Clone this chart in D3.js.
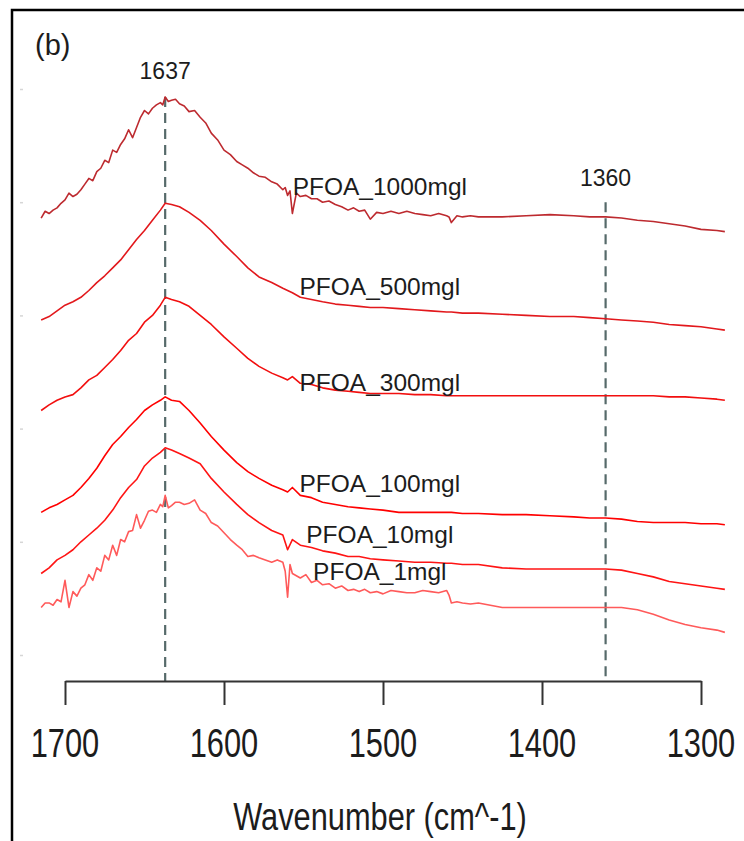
<!DOCTYPE html>
<html>
<head>
<meta charset="utf-8">
<script src="https://cdn.jsdelivr.net/npm/d3@7"></script>
<style>
  body { margin: 0; background: #fff; }
  text { font-family: "Liberation Sans", Arial, sans-serif; fill: #1c1c1c; }
</style>
</head>
<body>
<div id="chart"></div>
<script>
// wavenumber grid (cm^-1) for the smoother spectra
var wavenumbers = [1715, 1710, 1705, 1700, 1695, 1690, 1685, 1680, 1675, 1670,
  1665, 1660, 1655, 1650, 1645, 1640, 1637, 1633, 1628, 1622,
  1615, 1608, 1600, 1592, 1585, 1578, 1570, 1563, 1560, 1557,
  1552, 1545, 1538, 1530, 1522, 1515, 1508, 1500, 1490, 1480,
  1470, 1460, 1457, 1450, 1440, 1425, 1410, 1395, 1380, 1370,
  1360, 1350, 1340, 1330, 1320, 1310, 1300, 1290, 1285];

// denser grid for the two noisy spectra
var wavenumbersFine = [1715, 1712.5, 1710, 1707.5, 1705, 1702.5, 1700, 1697.5, 1695, 1692.5,
  1690, 1687.5, 1685, 1682.5, 1680, 1677.5, 1675, 1672.5, 1670, 1667.5,
  1665, 1662.5, 1660, 1657.5, 1655, 1652.5, 1650, 1647.5, 1645, 1642.5,
  1640, 1638.5, 1637, 1635, 1633, 1630.5, 1628, 1625, 1622, 1618.5,
  1615, 1611.5, 1608, 1604, 1600, 1596, 1592, 1588.5, 1585, 1581.5,
  1578, 1574, 1570, 1566.5, 1563, 1561.5, 1560, 1558.5, 1557, 1554.5,
  1552, 1548.5, 1545, 1541.5, 1538, 1534, 1530, 1526, 1522, 1518.5,
  1515, 1511.5, 1508, 1504, 1500, 1495, 1490, 1485, 1480, 1475,
  1470, 1465, 1460, 1458.5, 1457, 1453.5, 1450, 1445, 1440,
  1425, 1410, 1395, 1380, 1370, 1360, 1350, 1340, 1330, 1320,
  1310, 1300, 1290, 1285];

// stacked absorbance (offset per sample)
var pfoa1000 = [3.86, 3.92, 3.90, 3.93, 3.95, 3.99, 4.02, 4.08, 4.05, 4.07,
  4.11, 4.16, 4.21, 4.19, 4.27, 4.30, 4.37, 4.35, 4.46, 4.44,
  4.51, 4.56, 4.64, 4.57, 4.66, 4.75, 4.81, 4.78, 4.83, 4.86,
  4.88, 4.86, 4.93, 4.89, 4.90, 4.91, 4.87, 4.85, 4.80, 4.81,
  4.75, 4.70, 4.61, 4.55, 4.46, 4.42, 4.36, 4.33, 4.30, 4.26,
  4.23, 4.22, 4.18, 4.16, 4.11, 4.13, 4.06, 4.10, 3.90, 4.08,
  4.05, 4.06, 4.03, 4.03, 4.00, 4.01, 3.98, 3.96, 3.93, 3.95,
  3.92, 3.93, 3.85, 3.91, 3.90, 3.92, 3.90, 3.92, 3.90, 3.89,
  3.88, 3.90, 3.88, 3.87, 3.82, 3.88, 3.87, 3.88, 3.87,
  3.87, 3.88, 3.89, 3.88, 3.87, 3.87, 3.86, 3.84, 3.83, 3.81,
  3.79, 3.76, 3.75, 3.74];
var pfoa500 = [2.96, 2.99, 3.04, 3.09, 3.12, 3.16, 3.22, 3.29, 3.35, 3.42,
  3.49, 3.58, 3.67, 3.75, 3.84, 3.93, 3.99, 3.98, 3.96, 3.91,
  3.84, 3.75, 3.63, 3.52, 3.42, 3.34, 3.29, 3.24, 3.22, 3.20,
  3.16, 3.14, 3.12, 3.10, 3.09, 3.08, 3.07, 3.07, 3.06, 3.05,
  3.04, 3.03, 3.03, 3.02, 3.02, 3.01, 3.00, 2.99, 2.99, 2.98,
  2.97, 2.96, 2.95, 2.94, 2.92, 2.91, 2.90, 2.88, 2.87];
var pfoa300 = [2.16, 2.21, 2.25, 2.28, 2.30, 2.36, 2.43, 2.47, 2.54, 2.61,
  2.69, 2.78, 2.84, 2.94, 3.00, 3.09, 3.16, 3.14, 3.12, 3.08,
  3.00, 2.92, 2.81, 2.71, 2.62, 2.55, 2.49, 2.45, 2.43, 2.46,
  2.40, 2.39, 2.36, 2.34, 2.33, 2.32, 2.31, 2.31, 2.31, 2.30,
  2.30, 2.29, 2.29, 2.29, 2.29, 2.29, 2.29, 2.29, 2.29, 2.29,
  2.29, 2.29, 2.29, 2.29, 2.28, 2.28, 2.27, 2.26, 2.25];
var pfoa100 = [1.26, 1.30, 1.33, 1.37, 1.41, 1.48, 1.56, 1.65, 1.76, 1.86,
  1.93, 2.01, 2.08, 2.16, 2.21, 2.25, 2.28, 2.25, 2.24, 2.16,
  2.05, 1.93, 1.81, 1.70, 1.62, 1.56, 1.50, 1.46, 1.44, 1.48,
  1.41, 1.39, 1.35, 1.33, 1.31, 1.30, 1.29, 1.28, 1.26, 1.26,
  1.26, 1.26, 1.26, 1.25, 1.25, 1.24, 1.24, 1.23, 1.22, 1.21,
  1.21, 1.20, 1.18, 1.17, 1.17, 1.17, 1.16, 1.16, 1.15];
var pfoa10 = [0.72, 0.77, 0.84, 0.88, 0.93, 1.00, 1.06, 1.12, 1.19, 1.28,
  1.39, 1.48, 1.55, 1.67, 1.74, 1.79, 1.83, 1.81, 1.78, 1.74,
  1.69, 1.56, 1.44, 1.33, 1.24, 1.17, 1.10, 1.06, 0.93, 1.02,
  0.97, 0.95, 0.92, 0.90, 0.87, 0.87, 0.85, 0.84, 0.83, 0.82,
  0.82, 0.81, 0.81, 0.80, 0.80, 0.77, 0.76, 0.76, 0.76, 0.76,
  0.76, 0.75, 0.72, 0.69, 0.65, 0.63, 0.61, 0.59, 0.58];
var pfoa1 = [0.42, 0.46, 0.46, 0.44, 0.49, 0.47, 0.66, 0.42, 0.56, 0.52,
  0.59, 0.62, 0.71, 0.66, 0.77, 0.74, 0.88, 0.84, 0.97, 0.88,
  1.02, 1.00, 1.09, 1.10, 1.24, 1.12, 1.19, 1.27, 1.28, 1.26,
  1.33, 1.31, 1.41, 1.30, 1.32, 1.35, 1.35, 1.33, 1.34, 1.37,
  1.28, 1.25, 1.17, 1.14, 1.08, 1.02, 0.97, 0.93, 0.87, 0.88,
  0.86, 0.84, 0.82, 0.84, 0.82, 0.74, 0.51, 0.80, 0.72, 0.70,
  0.68, 0.71, 0.64, 0.66, 0.62, 0.63, 0.59, 0.61, 0.57, 0.58,
  0.56, 0.58, 0.55, 0.56, 0.54, 0.57, 0.56, 0.55, 0.55, 0.57,
  0.56, 0.55, 0.57, 0.53, 0.46, 0.47, 0.46, 0.45, 0.46,
  0.42, 0.42, 0.42, 0.42, 0.42, 0.42, 0.42, 0.40, 0.36, 0.31,
  0.27, 0.24, 0.22, 0.20];

var seriesNames = ["PFOA_1000mgl", "PFOA_500mgl", "PFOA_300mgl", "PFOA_100mgl", "PFOA_10mgl", "PFOA_1mgl"];
var seriesValues = [pfoa1000, pfoa500, pfoa300, pfoa100, pfoa10, pfoa1];
var seriesGrids = [wavenumbersFine, wavenumbers, wavenumbers, wavenumbers, wavenumbers, wavenumbersFine];
var seriesColors = ["#bd2a2f", "#e2181c", "#f20f0f", "#ff0000", "#ff1414", "#ff5a5a"];
var labelWavenumber = 1502;
var labelLevels = [4.14, 3.26, 2.41, 1.52, 1.07, 0.74];

var peaks = [1637, 1360];
var peakTops = [4.93, 4.00];
var peakLabelLevels = [5.16, 4.22];

var xTicks = [1700, 1600, 1500, 1400, 1300];
var yTicks = [0, 1, 2, 3, 4, 5];

var width = 744, height = 841;
var axisY = 681;

var svg = d3.select("#chart")
  .append("svg")
  .attr("width", width)
  .attr("height", height);

// panel frame (cropped on right and bottom)
svg.append("rect")
  .attr("x", 12)
  .attr("y", 10)
  .attr("width", 780)
  .attr("height", 880)
  .attr("fill", "none")
  .attr("stroke", "#000")
  .attr("stroke-width", 2.5);

var x = d3.scaleLinear().domain([1700, 1300]).range([65, 701]);
var y = d3.scaleLinear().domain([0, 5]).range([655, 89]);

// faint remnants of the y axis ticks
var yAxis = svg.append("g")
  .attr("transform", "translate(23,0)")
  .call(d3.axisLeft(y).tickValues(yTicks).tickSize(3).tickFormat(""));
yAxis.select(".domain").remove();
yAxis.selectAll("line").attr("stroke", "#d6d6d6").attr("stroke-width", 1.5);

// dashed peak markers
svg.selectAll(".peak")
  .data(peaks)
  .enter().append("line")
  .attr("class", "peak")
  .attr("x1", function(d) { return x(d); })
  .attr("x2", function(d) { return x(d); })
  .attr("y1", function(d, i) { return y(peakTops[i]); })
  .attr("y2", axisY)
  .attr("stroke", "#566a6a")
  .attr("stroke-width", 2.2)
  .attr("stroke-dasharray", "10,6");

svg.selectAll(".peakLabel")
  .data(peaks)
  .enter().append("text")
  .attr("class", "peakLabel")
  .attr("x", function(d) { return x(d); })
  .attr("y", function(d, i) { return y(peakLabelLevels[i]); })
  .attr("dy", "0.36em")
  .attr("text-anchor", "middle")
  .style("font-size", "23px")
  .text(function(d) { return d; });

// spectra
svg.selectAll(".spectrum")
  .data(seriesValues)
  .enter().append("path")
  .attr("class", "spectrum")
  .attr("d", function(vals, k) {
    var grid = seriesGrids[k];
    return d3.line()
      .x(function(d, i) { return x(grid[i]); })
      .y(function(d) { return y(d); })(vals);
  })
  .attr("fill", "none")
  .attr("stroke", function(d, i) { return seriesColors[i]; })
  .attr("stroke-width", 1.6)
  .attr("stroke-linejoin", "round");

svg.selectAll(".seriesLabel")
  .data(seriesNames)
  .enter().append("text")
  .attr("class", "seriesLabel")
  .attr("x", x(labelWavenumber))
  .attr("y", function(d, i) { return y(labelLevels[i]); })
  .attr("dy", "0.36em")
  .attr("text-anchor", "middle")
  .style("font-size", "24.5px")
  .text(function(d) { return d; });

// x axis
var xAxis = svg.append("g")
  .attr("transform", "translate(0," + axisY + ")")
  .call(d3.axisBottom(x).tickValues(xTicks).tickSize(24).tickSizeOuter(0).tickFormat(""));
xAxis.selectAll("path, line").attr("stroke", "#333").attr("stroke-width", 2);

svg.selectAll(".tickLabel")
  .data(xTicks)
  .enter().append("g")
  .attr("class", "tickLabel")
  .attr("transform", function(d) { return "translate(" + x(d) + ",757) scale(0.77,1)"; })
  .append("text")
  .attr("text-anchor", "middle")
  .style("font-size", "40px")
  .text(function(d) { return d; });

svg.append("g")
  .attr("transform", "translate(380,830) scale(0.81,1)")
  .append("text")
  .attr("text-anchor", "middle")
  .style("font-size", "38px")
  .text("Wavenumber (cm^-1)");

svg.append("text")
  .attr("x", 35)
  .attr("y", 55)
  .style("font-size", "29px")
  .text("(b)");
</script>
</body>
</html>
